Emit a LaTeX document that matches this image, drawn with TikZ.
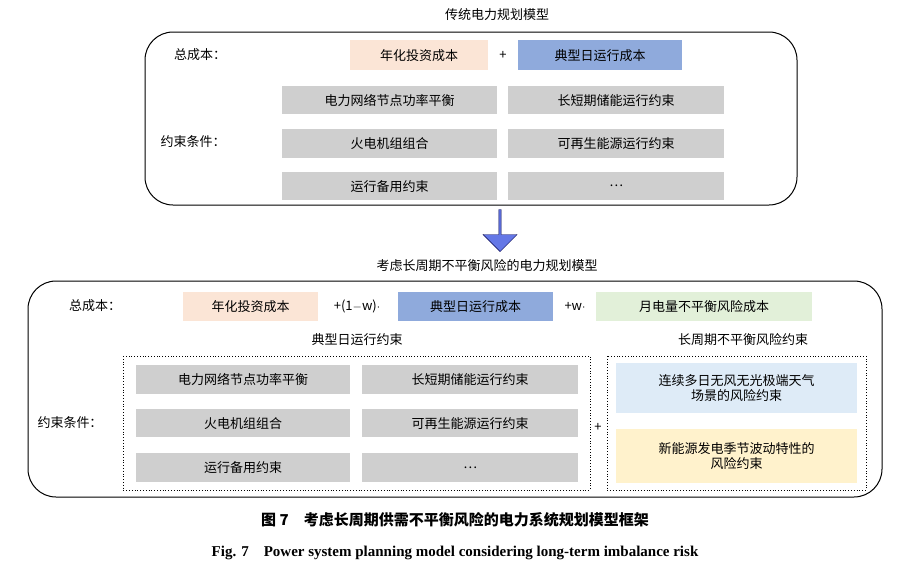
\documentclass[tikz,border=0pt]{standalone}
\usepackage{fontspec}
\setmainfont{Liberation Serif}
\newfontfamily\cjk{Noto Sans CJK SC}
\usetikzlibrary{shapes.arrows}
\definecolor{peach}{HTML}{FBE5D6}
\definecolor{bblue}{HTML}{8FAADC}
\definecolor{ggray}{HTML}{CFCFCF}
\definecolor{lblue}{HTML}{DEEBF7}
\definecolor{lyel}{HTML}{FFF2CC}
\definecolor{lgreen}{HTML}{E2F0D9}
\begin{document}
\begin{tikzpicture}[x=1pt,y=-1pt,
  txt/.style={font=\cjk\fontsize{13}{15}\selectfont},
  bx/.style={txt,anchor=north west,inner sep=0pt,align=center},
  frame/.style={draw,rounded corners=28pt,line width=1pt},
  dots/.style={draw,dotted,line width=0.8pt}]
\useasboundingbox (0,0) rectangle (910,579);
\newcommand{\bxx}[6]{\node[bx,fill=#5,minimum width=#3-#1,minimum height=#4-#2] (#6) at (#1,#2) {};}
% top
\node[txt] (t1) at (497,15) {传统电力规划模型};
\draw[frame] (145,32) rectangle (797,205);
\node[txt] (tc1) at (200,55) {总成本：};
\bxx{350}{40}{488}{70}{peach}{a1} \node[txt] at (a1.center) {年化投资成本};
\node[txt] (p1) at (503,55) {+};
\bxx{518}{40}{682}{70}{bblue}{a2} \node[txt] at (a2.center) {典型日运行成本};
\node[txt] (yc1) at (193,142) {约束条件：};
\bxx{282}{86}{497}{114}{ggray}{g1} \node[txt] at (g1.center) {电力网络节点功率平衡};
\bxx{508}{86}{724}{114}{ggray}{g2} \node[txt] at (g2.center) {长短期储能运行约束};
\bxx{282}{129}{497}{158}{ggray}{g3} \node[txt] at (g3.center) {火电机组组合};
\bxx{508}{129}{724}{158}{ggray}{g4} \node[txt] at (g4.center) {可再生能源运行约束};
\bxx{282}{172}{497}{200}{ggray}{g5} \node[txt] at (g5.center) {运行备用约束};
\bxx{508}{172}{724}{200}{ggray}{g6} \node[txt] at (g6.center) {…};
% arrow
\node[single arrow,draw=black!70!blue,fill=bblue!70!blue,shape border rotate=270,minimum height=42pt,minimum width=34pt,single arrow head extend=3pt,inner sep=0pt] (arr) at (500,230) {};
% bottom
\node[txt] (t2) at (487,266) {考虑长周期不平衡风险的电力规划模型};
\draw[frame] (28,281) rectangle (882,497);
\node[txt] (tc2) at (95,306) {总成本：};
\bxx{183}{292}{318}{321}{peach}{b1} \node[txt] at (b1.center) {年化投资成本};
\node[txt] (p2) at (357,306) {+(1$-$\textit{w})$\cdot$};
\bxx{398}{292}{553}{321}{bblue}{b2} \node[txt] at (b2.center) {典型日运行成本};
\node[txt] (p3) at (575,306) {+\textit{w}$\cdot$};
\bxx{596}{292}{812}{321}{lgreen}{b3} \node[txt] at (b3.center) {月电量不平衡风险成本};
\node[txt] (s1) at (357,340) {典型日运行约束};
\node[txt] (s2) at (743,340) {长周期不平衡风险约束};
\draw[dots] (123,356) rectangle (590,490);
\draw[dots] (607,356) rectangle (866,490);
\node[txt] (yc2) at (70,423) {约束条件：};
\node[txt] (p4) at (598,427) {+};
\bxx{136}{365}{350}{394}{ggray}{h1} \node[txt] at (h1.center) {电力网络节点功率平衡};
\bxx{362}{365}{578}{394}{ggray}{h2} \node[txt] at (h2.center) {长短期储能运行约束};
\bxx{136}{409}{350}{437}{ggray}{h3} \node[txt] at (h3.center) {火电机组组合};
\bxx{362}{409}{578}{437}{ggray}{h4} \node[txt] at (h4.center) {可再生能源运行约束};
\bxx{136}{453}{350}{482}{ggray}{h5} \node[txt] at (h5.center) {运行备用约束};
\bxx{362}{453}{578}{482}{ggray}{h6} \node[txt] at (h6.center) {…};
\bxx{616}{363}{857}{413}{lblue}{r1} \node[txt,align=center] at (r1.center) {连续多日无风无光极端天气\\场景的风险约束};
\bxx{616}{429}{857}{483}{lyel}{r2} \node[txt,align=center] at (r2.center) {新能源发电季节波动特性的\\风险约束};
% captions
\node[font=\cjk\bfseries\fontsize{15}{17}\selectfont] (c1) at (455,520) {图 7\quad 考虑长周期供需不平衡风险的电力系统规划模型框架};
\node[font=\bfseries\fontsize{15}{17}\selectfont] (c2) at (455,553) {Fig. 7\quad Power system planning model considering long-term imbalance risk};
\end{tikzpicture}
\end{document}
